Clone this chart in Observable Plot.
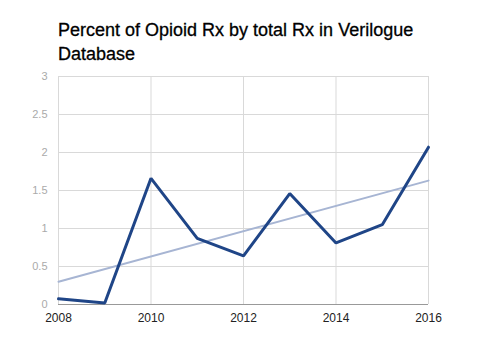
<!DOCTYPE html>
<html>
<head>
<meta charset="utf-8">
<script src="https://cdn.jsdelivr.net/npm/d3@7"></script>
<script src="https://cdn.jsdelivr.net/npm/@observablehq/plot@0.6"></script>
<style>
  html, body { margin: 0; padding: 0; background: #fff; }
  #wrap { width: 488px; height: 346px; position: relative; overflow: hidden; }
  #title { position: absolute; left: 58px; top: 19px; width: 400px; font-family: "Liberation Sans", Arial, sans-serif; font-size: 18px; line-height: 23.5px; color: #000; -webkit-text-stroke: 0.3px #000; }
  #chart { position: absolute; left: 0; top: 66px; }
</style>
</head>
<body>
<div id="wrap">
  <div id="title">Percent of Opioid Rx by total Rx in Verilogue Database</div>
  <div id="chart"></div>
</div>
<script>
const years = [2008, 2009, 2010, 2011, 2012, 2013, 2014, 2015, 2016];
const percents = [0.075, 0.02, 1.66, 0.87, 0.64, 1.46, 0.81, 1.05, 2.07];
const trendYears = [2008, 2016];
const trendValues = [0.30, 1.63];
const xTicks = [2008, 2010, 2012, 2014, 2016];
const yTicks = [0, 0.5, 1, 1.5, 2, 2.5, 3];

const series = years.map((y, i) => ({year: y, value: percents[i]}));
const trend = trendYears.map((y, i) => ({year: y, value: trendValues[i]}));

const chart = Plot.plot({
  width: 488,
  height: 280,
  marginTop: 10,
  marginBottom: 42,
  marginLeft: 58,
  marginRight: 60,
  style: {fontFamily: "'Liberation Sans', Arial, sans-serif", background: "white", overflow: "visible"},
  x: {domain: [2008, 2016]},
  y: {domain: [0, 3]},
  marks: [
    Plot.gridX(xTicks, {stroke: "#d9d9d9", strokeOpacity: 1, strokeWidth: 1}),
    Plot.gridY(yTicks, {stroke: "#d9d9d9", strokeOpacity: 1, strokeWidth: 1}),
    Plot.ruleY([0], {stroke: "#999", strokeWidth: 1}),
    Plot.axisX(xTicks, {tickSize: 0, tickPadding: 9, tickFormat: d => String(d), fontSize: 12, fill: "#222", label: null}),
    Plot.axisY(yTicks, {tickSize: 0, tickPadding: 11, tickFormat: d => String(d), fontSize: 11, fill: "#aaa", label: null}),
    Plot.line(trend, {x: "year", y: "value", stroke: "#a7b5d3", strokeWidth: 2}),
    Plot.line(series, {x: "year", y: "value", stroke: "#1f4587", strokeWidth: 3, strokeLinejoin: "miter"})
  ]
});
document.getElementById("chart").appendChild(chart);
</script>
</body>
</html>
